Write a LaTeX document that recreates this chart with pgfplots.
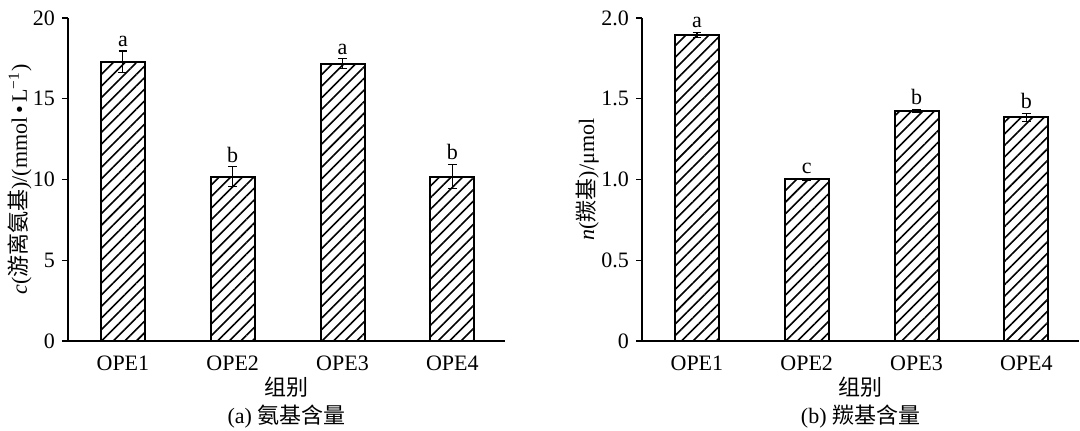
\documentclass[border=0pt]{standalone}
\usepackage{pgfplots}
\pgfplotsset{compat=1.18}
\usepackage{pgfplotstable}
\usetikzlibrary{patterns.meta}
\usepackage{fontspec}
\setmainfont{Liberation Serif}
\newfontfamily\cjk{Noto Sans CJK SC}

\pgfplotstableread{
x y err
0 17.28 0.68
1 10.18 0.60
2 17.18 0.30
3 10.18 0.75
}\amino
\pgfplotstableread{
x y lab
0 17.96 a
1 10.78 b
2 17.48 a
3 10.93 b
}\aminolab
\pgfplotstableread{
x y err
0 1.895 0.015
1 1.000 0.008
2 1.425 0.008
3 1.385 0.025
}\carbonyl
\pgfplotstableread{
x y lab
0 1.910 a
1 1.008 c
2 1.433 b
3 1.410 b
}\carbonyllab

\pgfplotsset{
  panel/.style={
    scale only axis,
    width=218.5pt, height=161.5pt,
    axis lines*=left,
    axis line style={line width=0.6pt, black},
    xmin=-0.5, xmax=3.48,
    ymin=0,
    xtick={0,1,2,3},
    xticklabels={OPE1,OPE2,OPE3,OPE4},
    x tick style={draw=none},
    tick align=outside,
    major tick length=3pt,
    y tick style={line width=0.6pt, black},
    /pgf/number format/assume math mode=true,
    tick label style={font=\fontsize{11}{12}\selectfont},
    xticklabel style={yshift=-1pt},
    label style={font=\fontsize{11}{12}\selectfont},
    xlabel={{\cjk 组别}},
    xlabel style={at={(axis description cs:0.5,0)}, anchor=center, yshift=-23pt},
    clip=false,
  },
  barstyle/.style={
    ybar, bar width=22pt, bar shift=0pt,
    draw=black, line width=1pt,
    pattern={Lines[angle=45,distance=4.1pt,line width=0.8pt]},
    pattern color=black,
    error bars/.cd, y dir=both, y explicit,
    error bar style={line width=0.6pt, black},
    error mark options={rotate=90, mark size=2.2pt, line width=0.6pt, black},
  },
  labstyle/.style={
    draw=none, mark=none,
    nodes near coords, point meta=explicit symbolic,
    nodes near coords style={anchor=south, inner sep=2pt, font=\fontsize{11}{12}\selectfont, black},
  },
}

\begin{document}
\begin{tikzpicture}
\path[use as bounding box] (-34pt,-45pt) rectangle (506pt,170.5pt);
\begin{axis}[panel,
  ymax=20,
  ytick={0,5,10,15,20},
  ylabel={\textit{c}({\cjk 游离氨基})/(mmol\,•\,L\textsuperscript{−1})},
  ylabel style={at={(axis description cs:-0.11,0.5)}, anchor=center},
]
\addplot[barstyle] table[x=x, y=y, y error=err] {\amino};
\addplot[labstyle] table[x=x, y=y, meta=lab] {\aminolab};
\node[font=\fontsize{11}{12}\selectfont] at (rel axis cs:0.5,0) [yshift=-38pt] {(a) {\cjk 氨基含量}};
\end{axis}
\begin{axis}[panel, at={(287pt,0pt)},
  ymax=2.0,
  ytick={0,0.5,1.0,1.5,2.0},
  yticklabels={0,0.5,1.0,1.5,2.0},
  ylabel={\textit{n}({\cjk 羰基})/μmol},
  ylabel style={at={(axis description cs:-0.1256,0.5)}, anchor=center},
]
\addplot[barstyle] table[x=x, y=y, y error=err] {\carbonyl};
\addplot[labstyle] table[x=x, y=y, meta=lab] {\carbonyllab};
\node[font=\fontsize{11}{12}\selectfont] at (rel axis cs:0.5,0) [yshift=-38pt] {(b) {\cjk 羰基含量}};
\end{axis}
\end{tikzpicture}
\end{document}
